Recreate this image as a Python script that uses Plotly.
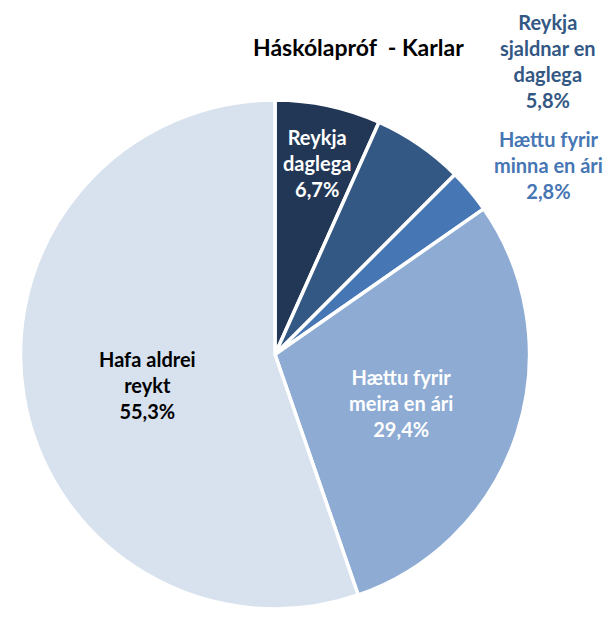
import plotly.graph_objects as go

title = "Háskólapróf  - Karlar"
label_lines = [
    ["Reykja", "daglega"],
    ["Reykja", "sjaldnar en", "daglega"],
    ["Hættu fyrir", "minna en ári"],
    ["Hættu fyrir", "meira en ári"],
    ["Hafa aldrei", "reykt"],
]
values = [6.7, 5.8, 2.8, 29.4, 55.3]

slice_colors = ["#223756", "#335884", "#4676B4", "#8DABD3", "#D7E2EE"]
text_colors = ["white", "#335884", "#4676B4", "white", "black"]
# label block centres in window pixels
label_pos = [(317, 163), (548, 61), (548, 165), (401, 403), (147, 385)]

# the page body keeps an 8px margin, so the figure is a bit smaller than the window
OFF = 8
W, H = 598, 601
FONT = "Lato"


def px(x):
    return (x - OFF) / W


def py(y):
    return 1 - (y - OFF) / H


fig = go.Figure()
fig.add_trace(go.Pie(
    values=values,
    labels=[" ".join(l) for l in label_lines],
    sort=False,
    direction="clockwise",
    rotation=0,
    marker=dict(colors=slice_colors, line=dict(color="white", width=3.5)),
    textinfo="none",
    showlegend=False,
    domain=dict(x=[px(20), px(530)], y=[max(0, py(609)), py(100)]),
))

for lines, v, col, (x, y) in zip(label_lines, values, text_colors, label_pos):
    pct = f"{v:.1f}".replace(".", ",") + "%"
    txt = "<br>".join(["<b>%s</b>" % s for s in lines + [pct]])
    fig.add_annotation(
        x=px(x), y=py(y), xref="paper", yref="paper",
        text=txt, showarrow=False, xanchor="center", yanchor="middle",
        font=dict(family=FONT, size=20, color=col),
    )

fig.add_annotation(
    x=px(358), y=py(47), xref="paper", yref="paper",
    text="<b>%s</b>" % title, showarrow=False, xanchor="center", yanchor="middle",
    font=dict(family=FONT, size=23, color="black"),
)

fig.update_layout(
    width=W, height=H,
    margin=dict(l=0, r=0, t=0, b=0),
    paper_bgcolor="white",
    plot_bgcolor="white",
)

fig.write_html("out.html")
